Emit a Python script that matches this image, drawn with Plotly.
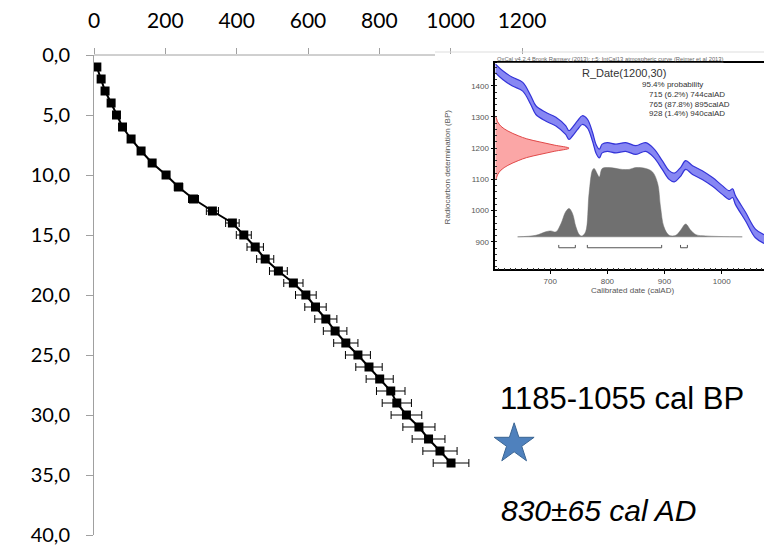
import plotly.graph_objects as go

# ---------------- main age-depth data ----------------
depth_cm = [1, 2, 3, 4, 5, 6, 7, 8, 9, 10, 11, 12, 13, 14, 15, 16, 17,
            18, 19, 20, 21, 22, 23, 24, 25, 26, 27, 28, 29, 30, 31, 32, 33, 34]
age_bp = [8, 20, 31, 48, 63, 80, 104, 132, 163, 202, 237, 279, 332, 388, 420, 452, 480,
          517, 559, 594, 621, 650, 676, 706, 740, 771, 801, 832, 849, 876, 911, 938, 970, 1001]
age_err = [1, 1, 2, 2, 3, 4, 5, 7, 8, 10, 12, 14, 17, 19, 21, 23, 24,
           25, 27, 29, 30, 31, 33, 34, 35, 37, 38, 40, 41, 43, 45, 46, 48, 50]
x_ticks = [0, 200, 400, 600, 800, 1000, 1200]
y_ticks = [0, 5, 10, 15, 20, 25, 30, 35, 40]

# ---------------- inset (OxCal calibration) data ----------------
cal_year = [604, 617, 634, 652, 666, 675, 692, 710, 727, 733, 739, 748, 756, 765, 774, 780,
            786, 791, 800, 815, 832, 850, 867, 882, 896, 908, 917, 928, 937, 949, 966, 984,
            1001, 1013, 1019, 1024, 1042, 1059, 1074]
cal_bp = [1456, 1434, 1413, 1397, 1354, 1322, 1301, 1285, 1258, 1242, 1253, 1274, 1290, 1279,
          1237, 1199, 1183, 1199, 1204, 1199, 1204, 1194, 1204, 1183, 1146, 1114, 1106, 1124,
          1146, 1130, 1114, 1092, 1066, 1050, 1056, 1034, 980, 927, 909]
cal_sigma = 14

rdate_bp = [1300, 1285, 1270, 1255, 1240, 1230, 1220, 1210, 1200, 1190, 1180, 1170, 1160,
            1145, 1130, 1115, 1100]
rdate_len = [1, 4, 10, 22, 40, 55, 78, 103, 129, 103, 78, 55, 40, 22, 10, 4, 1]

prob_year = [643, 675, 692, 701, 710, 719, 727, 733, 739, 745, 751, 756, 762, 768, 774, 777,
             782, 786, 791, 803, 826, 838, 850, 867, 879, 888, 893, 899, 908, 920, 928, 937,
             946, 955, 972, 1036]
prob_height = [0, 5, 16, 19, 16, 43, 80, 91, 75, 32, 7, 3, 16, 139, 214, 219, 203, 192, 219,
               222, 216, 216, 222, 219, 208, 171, 96, 32, 5, 5, 21, 41, 21, 7, 3, 0]
prob_base = 916
ranges_start = [715, 765, 928]
ranges_end = [744, 895, 940]
bracket_bp = 881

# ---------------- layout geometry (pixels) ----------------
W, H = 764, 547
ML, MT, PW, PH = 94, 55, 670, 480
MB = H - MT - PH


def px(p):
    return (p - ML) / PW


def py(p):
    return (MT + PH - p) / PH


fig = go.Figure()

# main age-depth model
fig.add_trace(go.Scatter(
    x=age_bp, y=depth_cm, mode="lines+markers",
    line=dict(color="black", width=2),
    marker=dict(symbol="square", size=9, color="black"),
    error_x=dict(type="data", array=age_err, color="black", thickness=1, width=4),
    xaxis="x", yaxis="y", showlegend=False, hoverinfo="skip"))

# star marker
fig.add_trace(go.Scatter(
    x=[1178], y=[32.4], mode="markers",
    marker=dict(symbol="star", size=30, color="#4f81bd", line=dict(color="#3a6593", width=1)),
    xaxis="x", yaxis="y", showlegend=False, cliponaxis=False, hoverinfo="skip"))

# calibration curve band
upper = [v + cal_sigma for v in cal_bp]
lower = [v - cal_sigma for v in cal_bp]
fig.add_trace(go.Scatter(x=cal_year, y=upper, mode="lines", line=dict(color="#3434d8", width=1.2, shape="spline"),
                         xaxis="x2", yaxis="y2", showlegend=False, hoverinfo="skip"))
fig.add_trace(go.Scatter(x=cal_year, y=lower, mode="lines", line=dict(color="#3434d8", width=1.2, shape="spline"),
                         fill="tonexty", fillcolor="rgba(105,105,240,0.8)",
                         xaxis="x2", yaxis="y2", showlegend=False, hoverinfo="skip"))

# radiocarbon date (red)
x0 = 604
red_x = [x0] + [x0 + v for v in rdate_len] + [x0]
red_y = [rdate_bp[0]] + rdate_bp + [rdate_bp[-1]]
fig.add_trace(go.Scatter(x=red_x, y=red_y, mode="lines", line=dict(color="#e04848", width=1, shape="spline"),
                         fill="toself", fillcolor="rgba(250,150,150,0.85)",
                         xaxis="x2", yaxis="y2", showlegend=False, hoverinfo="skip"))

# calibrated probability (grey)
fig.add_trace(go.Scatter(x=[prob_year[0], prob_year[-1]], y=[prob_base, prob_base], mode="lines",
                         line=dict(color="#cfcfcf", width=1.5),
                         xaxis="x2", yaxis="y2", showlegend=False, hoverinfo="skip"))
fig.add_trace(go.Scatter(x=prob_year, y=[prob_base + h for h in prob_height], mode="lines",
                         line=dict(color="#6e6e6e", width=0.5, shape="spline"),
                         fill="toself", fillcolor="#707070",
                         xaxis="x2", yaxis="y2", showlegend=False, hoverinfo="skip"))

# range brackets
bx, by = [], []
for a, b in zip(ranges_start, ranges_end):
    bx += [a, a, b, b, None]
    by += [bracket_bp + 9, bracket_bp, bracket_bp, bracket_bp + 9, None]
fig.add_trace(go.Scatter(x=bx, y=by, mode="lines", line=dict(color="#555555", width=1),
                         xaxis="x2", yaxis="y2", showlegend=False, hoverinfo="skip"))

axis_font = dict(family="Lato, Liberation Sans, sans-serif", size=20, color="black")
inset_font = dict(family="Liberation Sans, Arial, sans-serif", size=8, color="#555555")

fig.update_layout(
    width=W, height=H, autosize=False,
    margin=dict(l=ML, r=W - ML - PW, t=MT, b=MB, autoexpand=False),
    paper_bgcolor="white", plot_bgcolor="white",
    showlegend=False,
    separators=", ",
    xaxis=dict(domain=[0, px(522)], range=[0, 1200], side="top", tickvals=x_ticks,
               tickformat="d", ticks="outside", ticklen=6, tickcolor="#a0a0a0",
               showline=False, showgrid=False, zeroline=False,
               tickfont=dict(family="Lato, Liberation Sans, sans-serif", size=21, color="black"),
               ticklabelstandoff=12),
    yaxis=dict(domain=[0, 1], range=[40, 0], tickvals=y_ticks, tickformat=".1f",
               ticks="outside", ticklen=7, tickcolor="#a0a0a0",
               showline=True, linecolor="#a0a0a0", linewidth=1,
               showgrid=False, zeroline=False, tickfont=axis_font, ticklabelstandoff=12),
    xaxis2=dict(domain=[px(495.3), 1.0], range=[604, 1074], anchor="y2",
                tickvals=[700, 800, 900, 1000], ticks="outside", ticklen=3, tickcolor="black",
                minor=dict(ticks="inside", dtick=10, ticklen=2, tickcolor="#333333"),
                showline=True, linecolor="black", linewidth=1.5, mirror=True,
                showgrid=False, zeroline=False, tickfont=inset_font),
    yaxis2=dict(domain=[py(269.3), py(63.3)], range=[812, 1472], anchor="x2",
                tickvals=[900, 1000, 1100, 1200, 1300, 1400], ticks="outside", ticklen=3,
                tickcolor="black",
                minor=dict(ticks="inside", dtick=20, ticklen=2, tickcolor="#333333"),
                showline=True, linecolor="black", linewidth=1.5,
                showgrid=False, zeroline=False, tickfont=inset_font),
)

# main x axis line (visible part) and inset image top border
fig.add_shape(type="line", xref="paper", yref="paper", x0=0, x1=px(435), y0=1, y1=1,
              line=dict(color="#a0a0a0", width=1))
fig.add_shape(type="line", xref="paper", yref="paper", x0=px(435), x1=1, y0=py(52), y1=py(52),
              line=dict(color="#dddddd", width=1))

ann = []
txt_font = dict(family="Liberation Sans, Arial, sans-serif", color="#333333")
ann.append(dict(text="<u>OxCal v4.2.4 Bronk Ramsey (2013); r:5; IntCal13 atmospheric curve (Reimer et al 2013)</u>",
                xref="paper", yref="paper", x=px(495), y=py(59), xanchor="left", yanchor="middle",
                showarrow=False, font=dict(size=5.8, color="#666666", family="Liberation Sans, Arial")))
ann.append(dict(text="R_Date(1200,30)", xref="x2", yref="y2", x=829, y=1440, xanchor="center",
                yanchor="middle", showarrow=False, font=dict(size=11, **txt_font)))
inset_lines = ["95.4% probability", "715 (6.2%) 744calAD", "765 (87.8%) 895calAD", "928 (1.4%) 940calAD"]
inset_x = [857, 869, 869, 869]
inset_y = [1404, 1372, 1340, 1311]
for t, xx, yy in zip(inset_lines, inset_x, inset_y):
    ann.append(dict(text=t, xref="x2", yref="y2", x=xx, y=yy, xanchor="left", yanchor="middle",
                    showarrow=False, font=dict(size=8, **txt_font)))
ann.append(dict(text="Radiocarbon determination (BP)", xref="paper", yref="paper", x=px(447.7), y=py(166.7),
                textangle=-90, showarrow=False, xanchor="center", yanchor="middle", font=inset_font))
ann.append(dict(text="Calibrated date (calAD)", xref="paper", yref="paper", x=px(632.7), y=py(290.7),
                showarrow=False, xanchor="center", yanchor="middle", font=inset_font))
ann.append(dict(text="1185-1055 cal BP", xref="paper", yref="paper", x=px(498), y=py(398),
                xanchor="left", yanchor="middle", showarrow=False,
                font=dict(family="Liberation Sans, Arial, sans-serif", size=31, color="black")))
ann.append(dict(text="<i>830±65 cal AD</i>", xref="paper", yref="paper", x=px(499), y=py(510),
                xanchor="left", yanchor="middle", showarrow=False,
                font=dict(family="Liberation Sans, Arial, sans-serif", size=30, color="black")))
fig.update_layout(annotations=ann)

fig.write_html("out.html")
